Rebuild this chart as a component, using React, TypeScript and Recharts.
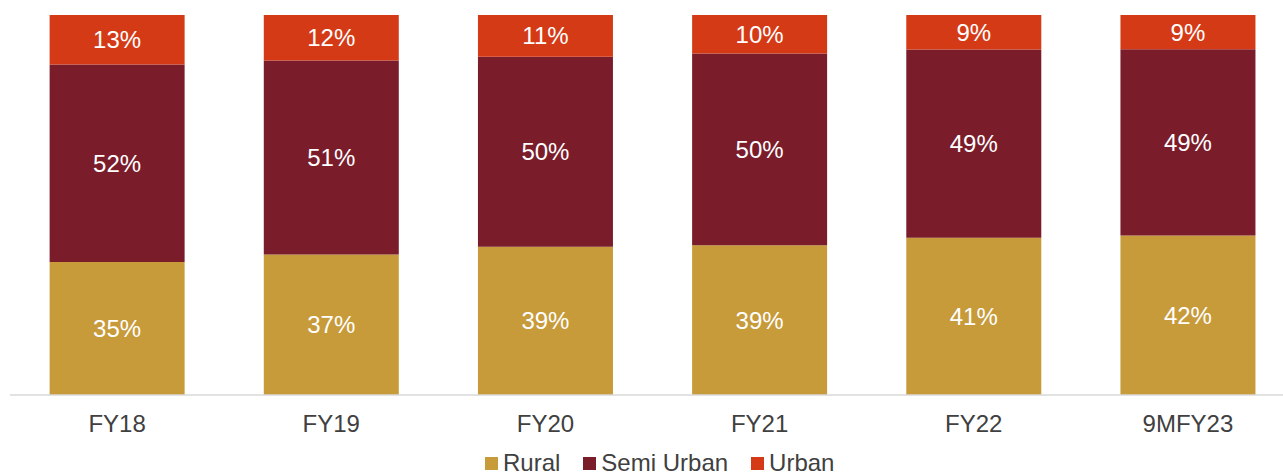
import { BarChart, Bar, XAxis, YAxis, Legend, LabelList } from "recharts";

const categories = ["FY18", "FY19", "FY20", "FY21", "FY22", "9MFY23"];
const rural = [35, 37, 39, 39, 41, 42];
const semiUrban = [52, 51, 50, 50, 49, 49];
const urban = [13, 12, 11, 10, 9, 9];

const SERIES = [
  { key: "rural", name: "Rural", color: "#C79A3A" },
  { key: "semiUrban", name: "Semi Urban", color: "#7A1C2A" },
  { key: "urban", name: "Urban", color: "#D53A16" },
];

const FONT = "'Liberation Sans', Arial, sans-serif";

const data = categories.map((c, i) => ({
  name: c,
  rural: rural[i],
  semiUrban: semiUrban[i],
  urban: urban[i],
}));

function LegendContent() {
  return (
    <div style={{ display: "flex", alignItems: "center", fontFamily: FONT, fontSize: 24, lineHeight: "26px", height: 26, color: "#404040", whiteSpace: "nowrap" }}>
      {SERIES.map((s, i) => (
        <div key={s.key} style={{ display: "flex", alignItems: "center", marginRight: i < SERIES.length - 1 ? 23 : 0 }}>
          <span style={{ width: 13, height: 13, background: s.color, display: "inline-block", marginRight: 5 }} />
          <span>{s.name}</span>
        </div>
      ))}
    </div>
  );
}

export default function App() {
  return (
    <div style={{ position: "absolute", left: 0, top: 0, width: 1283, height: 475, overflow: "hidden", background: "#fff" }}>
      <BarChart
        width={1300}
        height={475}
        data={data}
        stackOffset="expand"
        barCategoryGap="18.5%"
        margin={{ top: 15, right: 5, left: 10, bottom: 24 }}
      >
        <XAxis
          dataKey="name"
          height={30}
          axisLine={{ stroke: "#D9D9D9", strokeWidth: 1.5 }}
          tickLine={false}
          tickMargin={14}
          tick={{ fill: "#404040", fontSize: 24, fontFamily: FONT }}
          interval={0}
        />
        <YAxis hide domain={[0, 1]} />
        <Legend
          content={<LegendContent />}
          wrapperStyle={{ position: "absolute", left: 485, top: 450, width: 360, height: 26 }}
        />
        {SERIES.map((s) => (
          <Bar key={s.key} dataKey={s.key} name={s.name} stackId="a" fill={s.color} isAnimationActive={false}>
            <LabelList
              dataKey={s.key}
              position="center"
              formatter={(v: number) => `${v}%`}
              style={{ fill: "#FFFFFF", fontSize: 24, fontFamily: FONT }}
            />
          </Bar>
        ))}
      </BarChart>
    </div>
  );
}
